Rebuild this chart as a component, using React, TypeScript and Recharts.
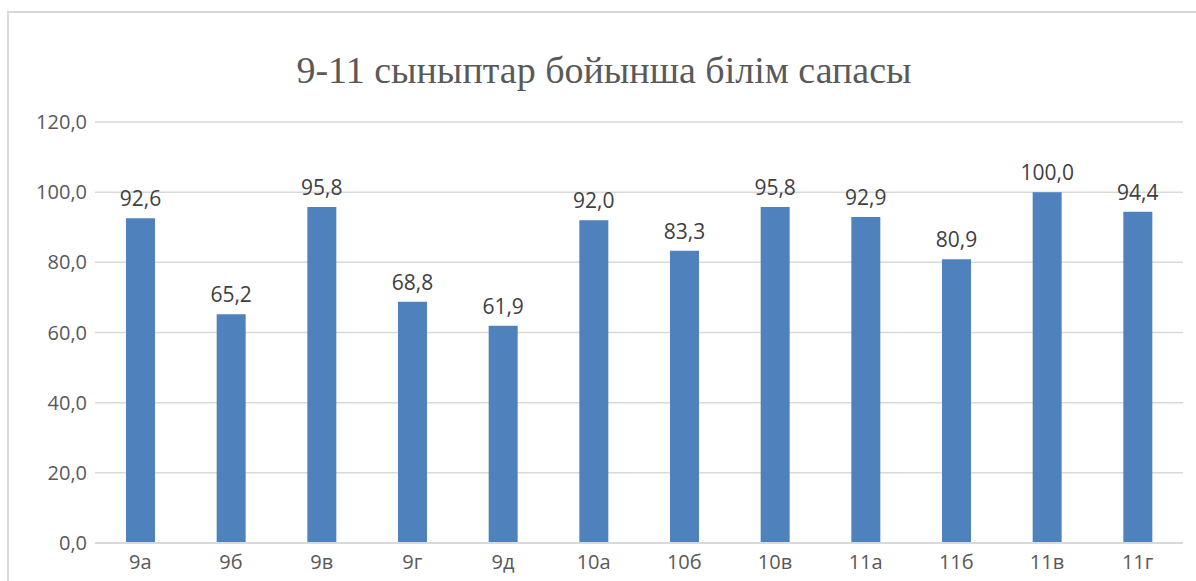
import { Bar, BarChart, CartesianGrid, LabelList, XAxis, YAxis } from "recharts";

const classes = ["9а", "9б", "9в", "9г", "9д", "10а", "10б", "10в", "11а", "11б", "11в", "11г"];
const quality = [92.6, 65.2, 95.8, 68.8, 61.9, 92.0, 83.3, 95.8, 92.9, 80.9, 100.0, 94.4];
const yTicks = [0, 20, 40, 60, 80, 100, 120];

const title = "9-11 сыныптар бойынша білім сапасы";

const data = classes.map((name, i) => ({ name, value: quality[i] }));

const fmt = (v: number) => v.toFixed(1).replace(".", ",");

export default function App() {
  return (
    <div
      style={{
        position: "absolute",
        left: 0,
        top: 0,
        width: 1196,
        height: 581,
        overflow: "hidden",
        background: "#fff",
      }}
    >
      <div
        style={{
          position: "absolute",
          left: 7,
          top: 11,
          width: 1220,
          height: 620,
          border: "2px solid #d9d9d9",
        }}
      />
      <div
        style={{
          position: "absolute",
          left: 0,
          top: 51,
          width: 1208,
          textAlign: "center",
          fontFamily: "'Liberation Serif', serif",
          fontSize: 38,
          lineHeight: "38px",
          color: "#595959",
        }}
      >
        {title}
      </div>
      <div style={{ position: "absolute", left: 0, top: 0 }}>
        <BarChart
          width={1196}
          height={581}
          data={data}
          margin={{ top: 122, right: 13, left: 0, bottom: 0 }}
          barSize={29}
        >
          <CartesianGrid vertical={false} stroke="#d9d9d9" strokeWidth={1.5} />
          <XAxis
            dataKey="name"
            height={38}
            tickLine={false}
            axisLine={{ stroke: "#d9d9d9", strokeWidth: 2 }}
            tickMargin={6}
            tick={{ fontSize: 20, fill: "#595959", fontFamily: "'Open Sans', sans-serif" }}
          />
          <YAxis
            width={95}
            domain={[0, 120]}
            ticks={yTicks}
            tickFormatter={fmt}
            axisLine={false}
            tickLine={false}
            tick={{ fontSize: 20, fill: "#595959", fontFamily: "'Open Sans', sans-serif" }}
          />
          <Bar dataKey="value" fill="#4f81bd" isAnimationActive={false}>
            <LabelList
              dataKey="value"
              position="top"
              offset={12}
              formatter={(v: number) => fmt(v)}
              style={{ fontSize: 21, fill: "#404040", fontFamily: "'Open Sans', sans-serif" }}
            />
          </Bar>
        </BarChart>
      </div>
    </div>
  );
}
